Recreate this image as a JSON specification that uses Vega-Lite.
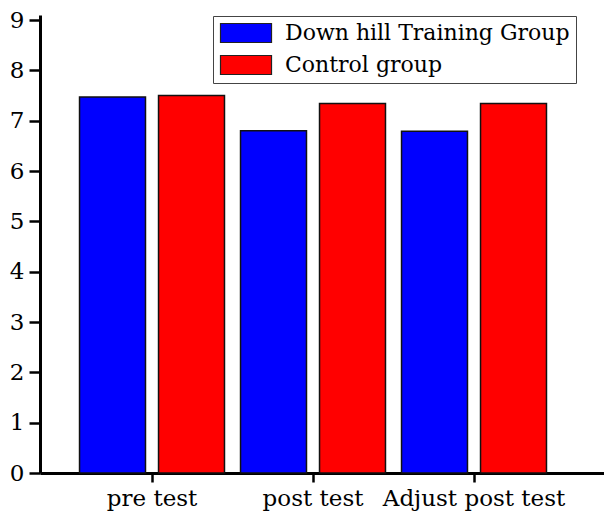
{
  "$schema": "https://vega.github.io/schema/vega-lite/v6.json",
  "autosize": "none",
  "width": 564,
  "height": 458,
  "padding": {"left": 40, "top": 15, "right": 0, "bottom": 42},
  "background": "white",
  "config": {
    "view": {"stroke": null},
    "font": "DejaVu Serif"
  },
  "data": {
    "values": [
      {"test": "pre test", "group": "Down hill Training Group", "value": 7.47},
      {"test": "pre test", "group": "Control group", "value": 7.50},
      {"test": "post test", "group": "Down hill Training Group", "value": 6.80},
      {"test": "post test", "group": "Control group", "value": 7.34},
      {"test": "Adjust post test", "group": "Down hill Training Group", "value": 6.79},
      {"test": "Adjust post test", "group": "Control group", "value": 7.34}
    ]
  },
  "mark": {"type": "bar", "stroke": "#111", "strokeWidth": 1.5},
  "encoding": {
    "x": {
      "field": "test", "type": "nominal", "sort": null,
      "scale": {"paddingInner": 0, "paddingOuter": 0.2516, "align": 0.389},
      "axis": {
        "title": null, "labelAngle": 0, "labelFont": "DejaVu Serif", "labelFontSize": 23, "labelLimit": 0,
        "labelColor": "black", "domainColor": "black", "domainWidth": 3,
        "tickColor": "black", "tickWidth": 2.5, "tickSize": 9, "labelPadding": 5, "grid": false
      }
    },
    "xOffset": {
      "field": "group", "type": "nominal", "sort": ["Down hill Training Group", "Control group"],
      "scale": {"paddingInner": 0.165, "paddingOuter": 0.1015}
    },
    "y": {
      "field": "value", "type": "quantitative",
      "scale": {"domain": [0, 9.1], "nice": false},
      "axis": {
        "title": null, "values": [0, 1, 2, 3, 4, 5, 6, 7, 8, 9], "grid": false,
        "labelFont": "DejaVu Serif", "labelFontSize": 23, "labelColor": "black",
        "domainColor": "black", "domainWidth": 3, "tickColor": "black", "tickWidth": 2.5,
        "tickSize": 11, "labelPadding": 5
      }
    },
    "fill": {
      "field": "group", "type": "nominal", "sort": ["Down hill Training Group", "Control group"],
      "scale": {"domain": ["Down hill Training Group", "Control group"], "range": ["#0000FF", "#FF0000"]},
      "legend": {
        "title": null, "orient": "none", "legendX": 173, "legendY": 1,
        "symbolType": "M-1,-1H4.37V1H-1Z", "symbolSize": 361,
        "symbolStrokeColor": "#222", "symbolStrokeWidth": 1.2,
        "labelFont": "DejaVu Serif", "labelFontSize": 22, "labelColor": "black", "labelLimit": 0,
        "labelOffset": 44, "rowPadding": 8, "padding": 6,
        "strokeColor": "#444", "fillColor": "white"
      }
    }
  }
}
